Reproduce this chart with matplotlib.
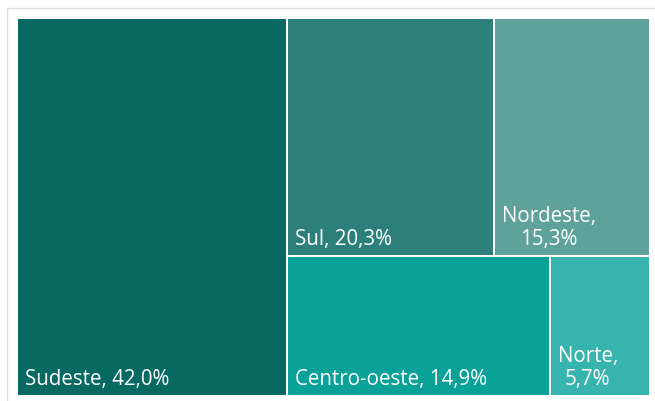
import matplotlib.pyplot as plt
from matplotlib.patches import Rectangle

regions = ["Sudeste", "Sul", "Nordeste", "Centro-oeste", "Norte"]
shares = [42.0, 20.3, 15.3, 14.9, 5.7]
labels = ["Sudeste, 42,0%", "Sul, 20,3%", "Nordeste,\n15,3%", "Centro-oeste, 14,9%", "Norte,\n5,7%"]
colors = ["#076961", "#2c7f7a", "#5fa19b", "#0aa199", "#38b4ae"]

W, H = 655, 401
fig = plt.figure(figsize=(W / 100, H / 100), dpi=100)
ax = fig.add_axes([0, 0, 1, 1])
ax.set_xlim(0, W)
ax.set_ylim(H, 0)
ax.axis("off")

# outer frame (runs off the right and bottom edges)
ax.add_patch(Rectangle((7, 8), 660, 410, fill=False, edgecolor="#dddddd", lw=1))

# treemap area
x0, y0, x1, y1 = 18, 19, 649, 395
total = sum(shares)
gap = 2

def draw(i, x, y, w, h):
    ax.add_patch(Rectangle((x, y), w - gap, h - gap, facecolor=colors[i], edgecolor="none"))
    ax.text(x + 7, y + h - gap - 10, labels[i], color="white", fontsize=14.8,
            family="Open Sans", ha="left", va="baseline", multialignment="center",
            linespacing=1.15)

# Sudeste fills the left column
w_sud = (x1 - x0) * shares[0] / total
draw(0, x0, y0, w_sud, y1 - y0 + gap)

rest = total - shares[0]
rx = x0 + w_sud
rw = x1 - rx + gap
# top row: Sul + Nordeste
top = shares[1] + shares[2]
th = (y1 - y0) * top / rest
w_sul = rw * shares[1] / top
draw(1, rx, y0, w_sul, th)
draw(2, rx + w_sul, y0, rw - w_sul, th)
# bottom row: Centro-oeste + Norte
bot = shares[3] + shares[4]
bh = y1 - y0 + gap - th
w_co = rw * shares[3] / bot
draw(3, rx, y0 + th, w_co, bh)
draw(4, rx + w_co, y0 + th, rw - w_co, bh)

fig.savefig("out.png", dpi=100)
